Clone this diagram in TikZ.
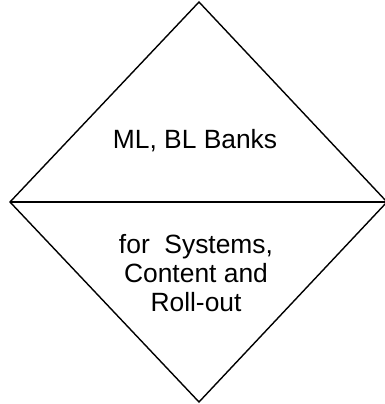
\documentclass[tikz,border=0pt]{standalone}
\usepackage{fontspec}
\setmainfont{Liberation Sans}
\tikzset{edge/.style={draw=black,line width=1.4pt,line join=miter},
  lbl/.style={font=\fontsize{26.4}{29}\selectfont,align=center,inner sep=0pt,anchor=base}}
\begin{document}
\begin{tikzpicture}[x=1pt,y=-1pt]
\useasboundingbox (0,0) rectangle (385,404);
\coordinate (top) at (199,2);
\coordinate (left) at (10,202);
\coordinate (right) at (387,202);
\coordinate (bottom) at (199,402);
\draw[edge] (left) -- (top) -- (right) -- (bottom) -- cycle;
\draw[edge] (left) -- (right);
\node[lbl] (upper) at (195,148) {ML, BL Banks};
\node[lbl] (lower) at (196,311.5) {for\ \ Systems,\\Content and\\Roll-out};
\end{tikzpicture}
\end{document}
